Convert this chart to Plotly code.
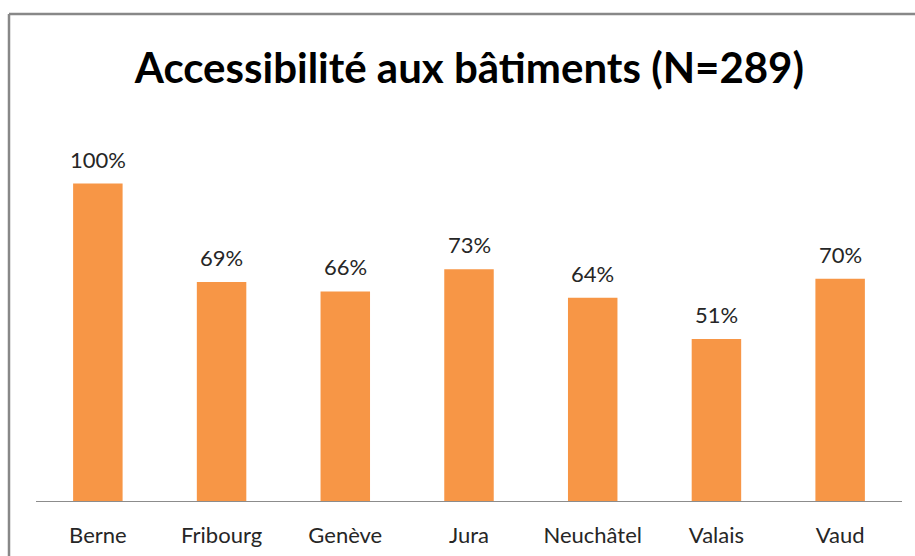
import plotly.graph_objects as go

categories = ["Berne", "Fribourg", "Genève", "Jura", "Neuchâtel", "Valais", "Vaud"]
values = [1.00, 0.69, 0.66, 0.73, 0.64, 0.51, 0.70]
labels = ["100%", "69%", "66%", "73%", "64%", "51%", "70%"]
title = "Accessibilité aux bâtiments (N=289)"

FONT = "Lato, Carlito, Calibri, sans-serif"

fig = go.Figure(go.Bar(
    x=categories, y=values,
    marker=dict(color="#F79646", line=dict(width=0)),
    cliponaxis=False, hoverinfo="skip",
))

for c, v, t in zip(categories, values, labels):
    fig.add_annotation(x=c, y=v, text=t, showarrow=False, yanchor="bottom", yshift=9,
                       font=dict(family=FONT, size=22, color="#262626"))

top = (501 - 14) / 381
left = -27 / 866
fig.update_layout(
    width=915, height=556,
    margin=dict(l=36, r=13, t=120, b=55, autoexpand=False),
    paper_bgcolor="white", plot_bgcolor="white",
    bargap=0.6,
    showlegend=False,
    title=dict(text="<b>" + title + "</b>", x=0.513, xanchor="center", y=0.878, yanchor="middle",
               font=dict(family=FONT, size=42, color="black")),
    xaxis=dict(showline=True, linecolor="#8c8c8c", linewidth=1.3, showgrid=False, automargin=False,
               ticks="", ticklabelstandoff=14, tickfont=dict(family=FONT, size=22, color="#262626"),
               fixedrange=True),
    yaxis=dict(range=[0, 1.2], visible=False, showgrid=False, zeroline=False),
    shapes=[
        dict(type="line", xref="paper", yref="paper", x0=left, x1=2, y0=top, y1=top,
             line=dict(color="#888888", width=2.5)),
        dict(type="line", xref="paper", yref="paper", x0=left, x1=left, y0=-1, y1=top,
             line=dict(color="#888888", width=2.5)),
    ],
)

fig.write_html("out.html", config={"displayModeBar": False},
               post_script="document.body.style.margin='0';")
